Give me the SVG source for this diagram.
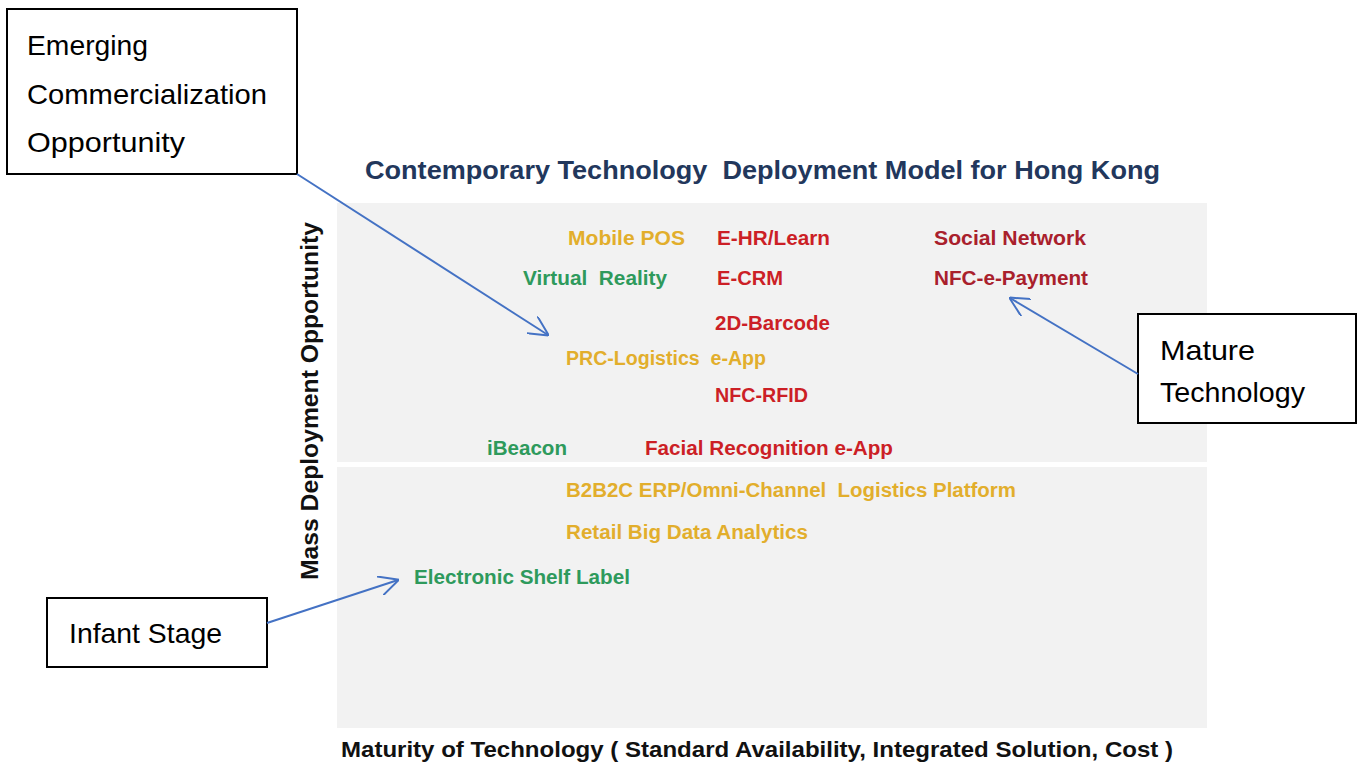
<svg xmlns="http://www.w3.org/2000/svg" width="1360" height="764" viewBox="0 0 1360 764" xml:space="preserve">
<style>
text{white-space:pre}
.panel{fill:#f2f2f2}
.box{fill:#ffffff;stroke:#000000;stroke-width:2}
.boxtxt{font-family:"Liberation Sans",Arial,sans-serif;font-size:28px;fill:#000000}
.item{font-family:"Liberation Sans",Arial,sans-serif;font-size:20px;font-weight:bold}
.gold{fill:#e2ae2c}
.red{fill:#cc1f26}
.dred{fill:#a9202c}
.green{fill:#2e9a5c}
.axis{font-family:"Liberation Sans",Arial,sans-serif;font-weight:bold;fill:#111111}
.title{font-family:"Liberation Sans",Arial,sans-serif;font-weight:bold;font-size:26px;fill:#22375c}
.conn{fill:none;stroke:#4472c4;stroke-width:2}
</style>
<defs>
<marker id="arr" viewBox="0 0 20 20" markerUnits="userSpaceOnUse" markerWidth="20" markerHeight="20" refX="19" refY="10" orient="auto">
<path d="M0,0 L20,10 L0,20" fill="none" stroke="#4472c4" stroke-width="2"/>
</marker>
</defs>
<rect width="1360" height="764" fill="#ffffff"/>
<g id="chart">
<rect class="panel" x="337" y="203" width="870" height="259"/>
<rect class="panel" x="337" y="467" width="870" height="261"/>
<text class="title" x="365" y="179" textLength="795" lengthAdjust="spacingAndGlyphs">Contemporary Technology  Deployment Model for Hong Kong</text>
<text class="axis" font-size="24" transform="translate(318,580) rotate(-90)" textLength="358" lengthAdjust="spacingAndGlyphs">Mass Deployment Opportunity</text>
<text class="axis" font-size="22" x="341" y="757" textLength="832" lengthAdjust="spacingAndGlyphs">Maturity of Technology ( Standard Availability, Integrated Solution, Cost )</text>
</g>
<g id="items">
<text class="item gold" x="568" y="245" textLength="117" lengthAdjust="spacingAndGlyphs">Mobile POS</text>
<text class="item red" x="717" y="245" textLength="113" lengthAdjust="spacingAndGlyphs">E-HR/Learn</text>
<text class="item dred" x="934" y="245" textLength="152" lengthAdjust="spacingAndGlyphs">Social Network</text>
<text class="item green" x="523" y="285" textLength="144" lengthAdjust="spacingAndGlyphs">Virtual  Reality</text>
<text class="item red" x="717" y="285" textLength="66" lengthAdjust="spacingAndGlyphs">E-CRM</text>
<text class="item dred" x="934" y="285" textLength="154" lengthAdjust="spacingAndGlyphs">NFC-e-Payment</text>
<text class="item red" x="715" y="330" textLength="115" lengthAdjust="spacingAndGlyphs">2D-Barcode</text>
<text class="item gold" x="566" y="365" textLength="200" lengthAdjust="spacingAndGlyphs">PRC-Logistics  e-App</text>
<text class="item red" x="715" y="402" textLength="93" lengthAdjust="spacingAndGlyphs">NFC-RFID</text>
<text class="item green" x="487" y="455" textLength="80" lengthAdjust="spacingAndGlyphs">iBeacon</text>
<text class="item red" x="645" y="455" textLength="248" lengthAdjust="spacingAndGlyphs">Facial Recognition e-App</text>
<text class="item gold" x="566" y="497" textLength="450" lengthAdjust="spacingAndGlyphs">B2B2C ERP/Omni-Channel  Logistics Platform</text>
<text class="item gold" x="566" y="539" textLength="242" lengthAdjust="spacingAndGlyphs">Retail Big Data Analytics</text>
<text class="item green" x="414" y="584" textLength="216" lengthAdjust="spacingAndGlyphs">Electronic Shelf Label</text>
</g>
<g id="node-emerging">
<rect class="box" x="7" y="9" width="290" height="165"/>
<text class="boxtxt" x="27" y="55" textLength="121" lengthAdjust="spacingAndGlyphs">Emerging</text>
<text class="boxtxt" x="27" y="104" textLength="240" lengthAdjust="spacingAndGlyphs">Commercialization</text>
<text class="boxtxt" x="27" y="152" textLength="158" lengthAdjust="spacingAndGlyphs">Opportunity</text>
</g>
<g id="node-mature">
<rect class="box" x="1138" y="314" width="218" height="109"/>
<text class="boxtxt" x="1160" y="360" textLength="95" lengthAdjust="spacingAndGlyphs">Mature</text>
<text class="boxtxt" x="1160" y="402" textLength="145" lengthAdjust="spacingAndGlyphs">Technology</text>
</g>
<g id="node-infant">
<rect class="box" x="47" y="598" width="220" height="69"/>
<text class="boxtxt" x="69" y="643" textLength="153" lengthAdjust="spacingAndGlyphs">Infant Stage</text>
</g>
<g id="connectors">
<line class="conn" x1="297" y1="174" x2="548" y2="335" marker-end="url(#arr)"/>
<line class="conn" x1="1138" y1="374" x2="1010" y2="298" marker-end="url(#arr)"/>
<line class="conn" x1="267" y1="623" x2="398" y2="580" marker-end="url(#arr)"/>
</g>
</svg>
